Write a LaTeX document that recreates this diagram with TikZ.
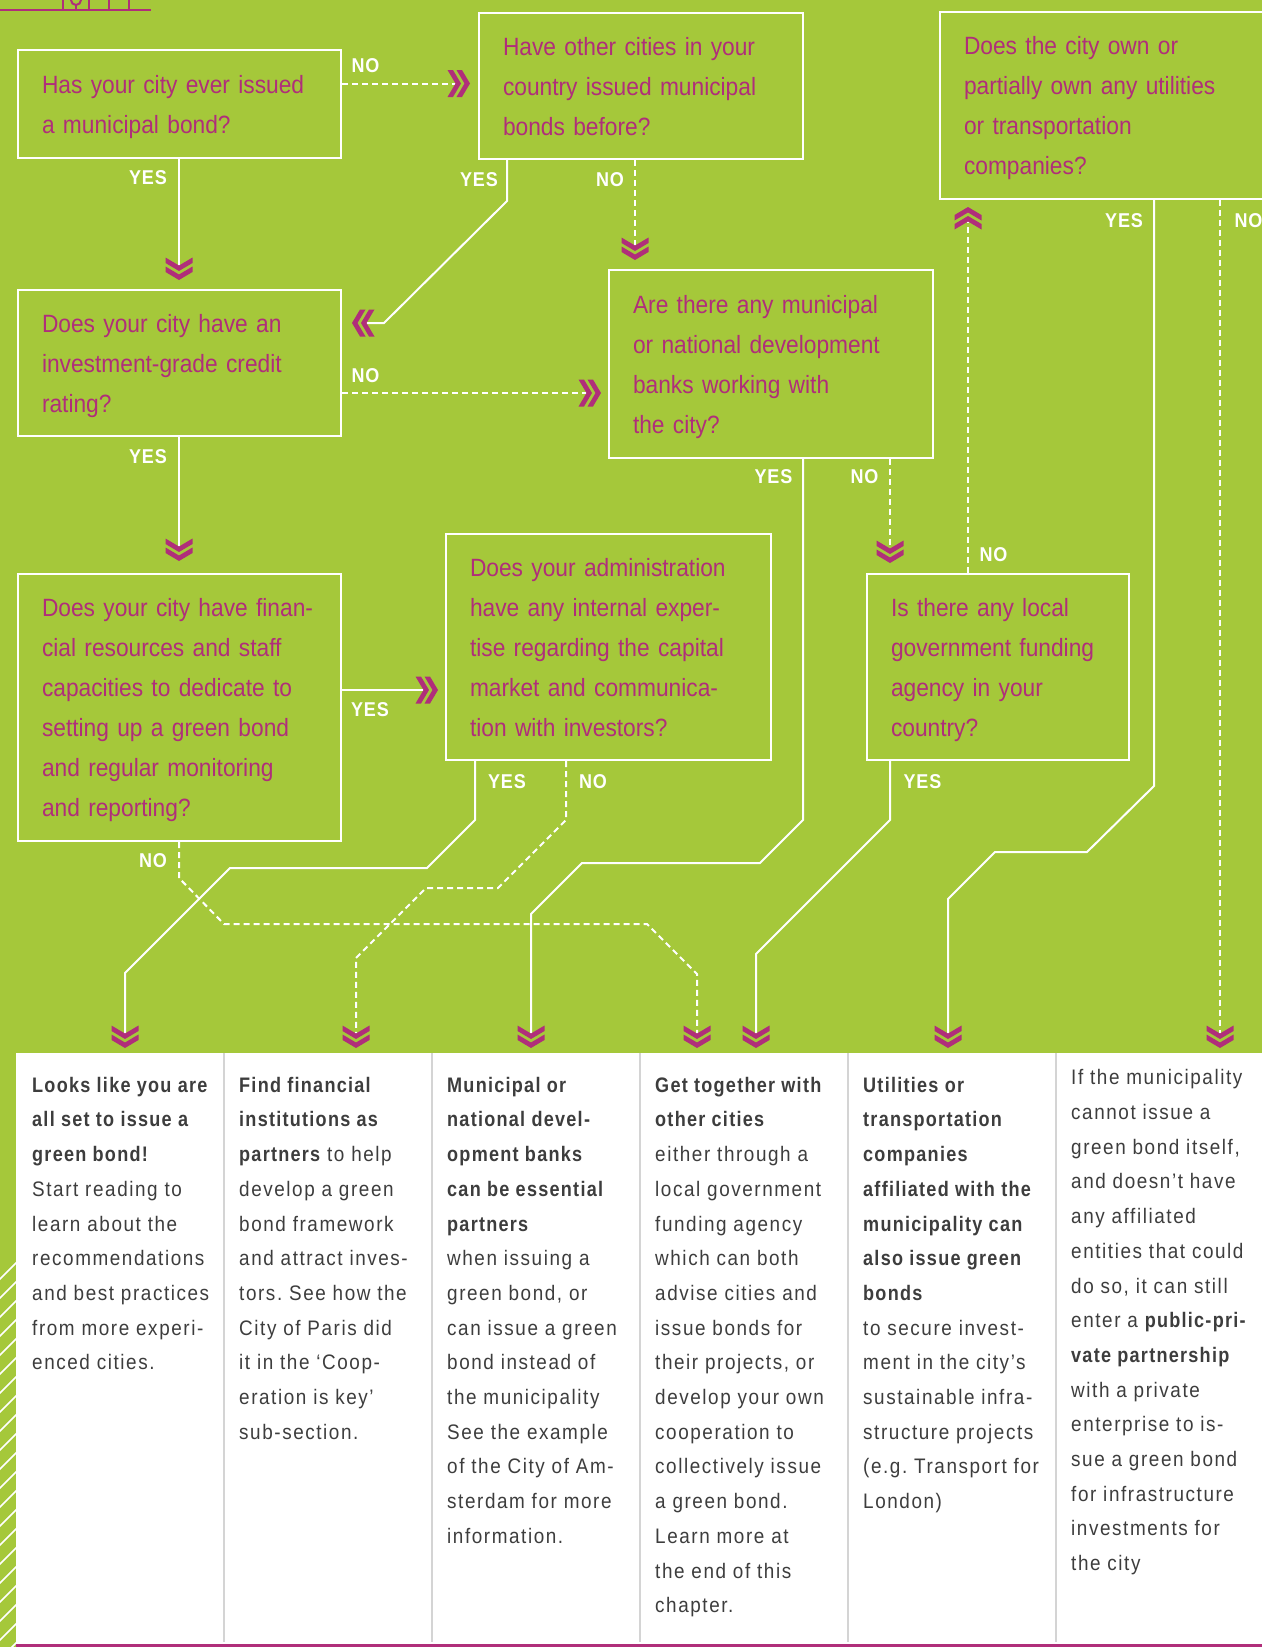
\documentclass[tikz,border=0pt]{standalone}
\usepackage{fontspec}
\setmainfont{Liberation Sans}
\newfontfamily\qfont[FakeStretch=0.91]{Liberation Sans}
\newfontfamily\lblfont[FakeStretch=0.9,LetterSpace=4]{Liberation Sans}
\newfontfamily\colfont[FakeStretch=0.9,LetterSpace=7.5]{Liberation Sans}
\newfontfamily\colbfont[FakeStretch=0.86,LetterSpace=6]{Liberation Sans}
\newcommand\cb[1]{{\colbfont\bfseries #1}}
\newcommand\fl{\rule{0pt}{20pt}}
\newcommand\qs{\rule[-8pt]{0pt}{34pt}}
\frenchspacing
\definecolor{bggreen}{RGB}{165,200,58}
\definecolor{mag}{RGB}{176,46,122}
\definecolor{coltext}{RGB}{61,61,61}
\definecolor{divgray}{RGB}{212,212,212}
\tikzset{
 qbox/.style={draw=white, line width=2pt, anchor=north west, inner xsep=24pt, inner ysep=0pt,
   align=left, text=mag, font=\qfont\fontsize{25}{40}\selectfont\frenchspacing},
 lbl/.style={text=white, inner sep=0pt, font=\lblfont\bfseries\fontsize{20}{24}\selectfont},
 yesline/.style={draw=white, line width=2pt},
 noline/.style={draw=white, line width=2pt, dash pattern=on 6pt off 4pt},
 coltxt/.style={anchor=north west, inner sep=0pt, align=left, text=coltext,
   font=\colfont\fontsize{21}{34.7}\selectfont\frenchspacing},
 dchev/.pic={
   \fill[mag] (-13.5,-13.5) -- (0,-5.5) -- (13.5,-13.5) -- (13.5,-8) -- (0,0) -- (-13.5,-8) -- cycle;
   \fill[mag] (-13.5,-22.5) -- (0,-14.5) -- (13.5,-22.5) -- (13.5,-17) -- (0,-9) -- (-13.5,-17) -- cycle;}
}
\begin{document}
\begin{tikzpicture}[x=1pt,y=-1pt]
\useasboundingbox (0,0) rectangle (1262,1647);
\fill[bggreen] (0,0) rectangle (1262,1647);
\fill[white] (16,1053) rectangle (1262,1647);
% hatch strip
\begin{scope}
\clip (0,1262) rectangle (16,1647);
\foreach \k in {0,...,21} \draw[white, line width=1.5pt] (-1,1262+19*\k+18) -- (17,1262+19*\k);
\end{scope}
% top-left icon
\draw[mag, line width=2pt] (0,10) -- (151,10);
\foreach \xx in {63,89,109,129} \draw[mag, line width=2pt] (\xx,-1) -- (\xx,10);
\draw[mag, line width=2pt] (76,5) -- (76,10);
\draw[mag, line width=2pt] (76,0) circle (5);
% column dividers and bottom rule
\foreach \xx in {224,432,640,848,1056} \draw[divgray, line width=2pt] (\xx,1053) -- (\xx,1642);
\draw[mag, line width=3.5pt] (16,1645.5) -- (1262,1645.5);

% question boxes
\node[qbox, text width=275pt, minimum width=323pt, minimum height=108pt] (b1) at (17,49)
  {\qs Has your city ever issued\\ a municipal bond?\qs};
\node[qbox, text width=276pt, minimum width=324pt, minimum height=146pt] (b2) at (478,12)
  {\qs Have other cities in your\\ country issued municipal\\ bonds before?\qs};
\node[qbox, text width=282pt, minimum width=330pt, minimum height=187pt] (b3) at (939,11)
  {\qs Does the city own or\\ \mbox{partially own any utilities}\\ or transportation\\ companies?\qs};
\node[qbox, text width=275pt, minimum width=323pt, minimum height=146pt] (b4) at (17,289)
  {\qs Does your city have an\\ investment-grade credit\\ rating?\qs};
\node[qbox, text width=276pt, minimum width=324pt, minimum height=188pt] (b5) at (608,269)
  {\qs Are there any municipal\\ \mbox{or national development}\\ banks working with\\ the city?\qs};
\node[qbox, text width=275pt, minimum width=323pt, minimum height=267pt] (b6) at (17,573)
  {\qs \mbox{Does your city have finan-}\\ \mbox{cial resources and staff}\\ \mbox{capacities to dedicate to}\\ \mbox{setting up a green bond}\\ and regular monitoring\\ and reporting?\qs};
\node[qbox, text width=277pt, minimum width=325pt, minimum height=226pt] (b7) at (445,533)
  {\qs \mbox{Does your administration}\\ \mbox{have any internal exper-}\\ \mbox{tise regarding the capital}\\ \mbox{market and communica-}\\ tion with investors?\qs};
\node[qbox, text width=214pt, minimum width=262pt, minimum height=186pt] (b8) at (866,573)
  {\qs Is there any local\\ \mbox{government funding}\\ agency in your\\ country?\qs};

% chevron tips
\coordinate (k1) at (470,83.5);
\coordinate (k2) at (179,280);
\coordinate (k3) at (352,323);
\coordinate (k4) at (635,260);
\coordinate (k5) at (601,393);
\coordinate (k6) at (179,561);
\coordinate (k7) at (438,690);
\coordinate (k8) at (531,1048);
\coordinate (k9) at (890,563);
\coordinate (k10) at (968,207);
\coordinate (k11) at (756,1048);
\coordinate (k12) at (948,1048);
\coordinate (k13) at (1220,1048);
\coordinate (k14) at (697,1048);
\coordinate (k15) at (125,1048);
\coordinate (k16) at (356,1048);
% bend starts
\coordinate (s3) at (507,201);
\coordinate (s8) at (803,820);
\coordinate (s11) at (890,820);
\coordinate (s12) at (1154,786);
\coordinate (s14) at (179,878);
\coordinate (s15) at (475,820);
\coordinate (s16) at (566,820);

% connectors
\draw[noline] (b1.east |- k1) -- ([xshift=-10pt]k1);
\draw[yesline] (b1.south -| k2) -- ([yshift=12pt]k2);
\draw[yesline] (b2.south -| s3) -- (s3) -- (384,323) -- ([xshift=10pt]k3);
\draw[noline] (b2.south -| k4) -- ([yshift=12pt]k4);
\draw[noline] (b4.east |- k5) -- ([xshift=-10pt]k5);
\draw[yesline] (b4.south -| k6) -- ([yshift=12pt]k6);
\draw[yesline] (b6.east |- k7) -- ([xshift=-10pt]k7);
\draw[yesline] (b5.south -| s8) -- (s8) -- (760,863) -- (582,863) -- (531,914) -- ([yshift=12pt]k8);
\draw[noline] (b5.south -| k9) -- ([yshift=12pt]k9);
\draw[noline] (b8.north -| k10) -- ([yshift=-10pt]k10);
\draw[yesline] (b8.south -| s11) -- (s11) -- (756,954) -- ([yshift=12pt]k11);
\draw[yesline] (b3.south -| s12) -- (s12) -- (1087,852) -- (995,852) -- (948,899) -- ([yshift=12pt]k12);
\draw[noline] (b3.south -| k13) -- ([yshift=12pt]k13);
\draw[noline] (b6.south -| s14) -- (s14) -- (224,924) -- (647,924) -- (697,974) -- ([yshift=12pt]k14);
\draw[yesline] (b7.south -| s15) -- (s15) -- (427,868) -- (230,868) -- (125,973) -- ([yshift=12pt]k15);
\draw[noline] (b7.south -| s16) -- (s16) -- (498,888) -- (426,888) -- (356,958) -- ([yshift=12pt]k16);

% chevrons
\pic[rotate=90] at (k1) {dchev};
\pic at (k2) {dchev};
\pic[rotate=-90] at (k3) {dchev};
\pic at (k4) {dchev};
\pic[rotate=90] at (k5) {dchev};
\pic at (k6) {dchev};
\pic[rotate=90] at (k7) {dchev};
\pic at (k8) {dchev};
\pic at (k9) {dchev};
\pic[rotate=180] at (k10) {dchev};
\pic at (k11) {dchev};
\pic at (k12) {dchev};
\pic at (k13) {dchev};
\pic at (k14) {dchev};
\pic at (k15) {dchev};
\pic at (k16) {dchev};

% labels
\node[lbl] (l1n) at (365.5,65.5) {NO};
\node[lbl] (l1y) at (148,177.5) {YES};
\node[lbl] (l2y) at (479,179.5) {YES};
\node[lbl] (l2n) at (610,179.5) {NO};
\node[lbl] (l3y) at (1124,220.5) {YES};
\node[lbl] (l3n) at (1248.5,220.5) {NO};
\node[lbl] (l4n) at (365.5,375.5) {NO};
\node[lbl] (l4y) at (148,457) {YES};
\node[lbl] (l5y) at (773.5,477) {YES};
\node[lbl] (l5n) at (864.5,477) {NO};
\node[lbl] (l6y) at (370,710) {YES};
\node[lbl] (l6n) at (153,860.5) {NO};
\node[lbl] (l7y) at (507,782) {YES};
\node[lbl] (l7n) at (593,782) {NO};
\node[lbl] (l8n) at (993.5,554.5) {NO};
\node[lbl] (l8y) at (922.5,781.5) {YES};

% result columns
\node[coltxt] (t1) at (32,1072) {\fl\cb{Looks like you are}\\ \cb{all set to issue a}\\ \cb{green bond!}\\ Start reading to\\ learn about the\\ recommendations\\ and best practices\\ from more experi-\\ enced cities.};
\node[coltxt] (t2) at (239,1072) {\fl\cb{Find financial}\\ \cb{institutions as}\\ \cb{partners} to help\\ develop a green\\ bond framework\\ and attract inves-\\ tors. See how the\\ City of Paris did\\ it in the ‘Coop-\\ eration is key’\\ sub-section.};
\node[coltxt] (t3) at (447,1072) {\fl\cb{Municipal or}\\ \cb{national devel-}\\ \cb{opment banks}\\ \cb{can be essential}\\ \cb{partners}\\ when issuing a\\ green bond, or\\ can issue a green\\ bond instead of\\ the municipality\\ See the example\\ of the City of Am-\\ sterdam for more\\ information.};
\node[coltxt] (t4) at (655,1072) {\fl\cb{Get together with}\\ \cb{other cities}\\ either through a\\ local government\\ funding agency\\ which can both\\ advise cities and\\ issue bonds for\\ their projects, or\\ develop your own\\ cooperation to\\ collectively issue\\ a green bond.\\ Learn more at\\ the end of this\\ chapter.};
\node[coltxt] (t5) at (863,1072) {\fl\cb{Utilities or}\\ \cb{transportation}\\ \cb{companies}\\ \cb{affiliated with the}\\ \cb{municipality can}\\ \cb{also issue green}\\ \cb{bonds}\\ to secure invest-\\ ment in the city’s\\ sustainable infra-\\ structure projects\\ (e.g. Transport for\\ London)};
\node[coltxt] (t6) at (1071,1064.6) {\fl If the municipality\\ cannot issue a\\ green bond itself,\\ and doesn’t have\\ any affiliated\\ entities that could\\ do so, it can still\\ enter a \cb{public-pri-}\\ \cb{vate partnership}\\ with a private\\ enterprise to is-\\ sue a green bond\\ for infrastructure\\ investments for\\ the city};
\end{tikzpicture}
\end{document}
